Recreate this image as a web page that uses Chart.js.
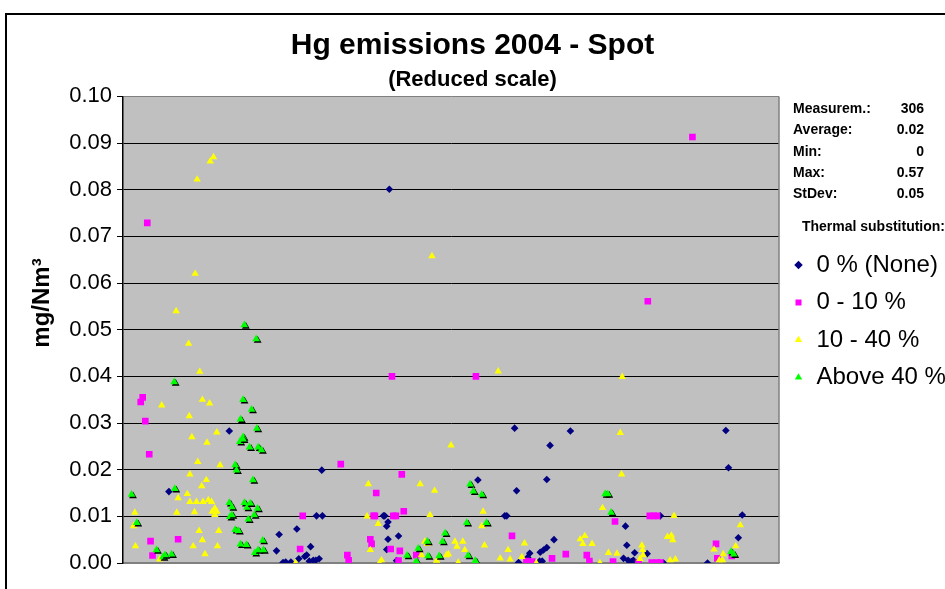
<!DOCTYPE html>
<html>
<head>
<meta charset="utf-8">
<script src="https://cdn.jsdelivr.net/npm/chart.js@4.4.1/dist/chart.umd.min.js"></script>
<style>
  html, body { margin: 0; padding: 0; background: #fff; overflow: hidden; }
  #wrap { position: relative; width: 945px; height: 589px; }
  #moldura { position: absolute; left: 5px; top: 13px; width: 1000px; height: 700px;
    border-top: 2px solid #000; border-left: 2px solid #000; pointer-events: none; }
  #estatisticas { position: absolute; left: 793px; top: 98px; width: 131px;
    font: bold 14px "Liberation Sans", Arial, sans-serif; color: #000; }
  #estatisticas div { display: flex; justify-content: space-between; height: 21.3px; line-height: 21.3px; }
</style>
</head>
<body>
<div id="wrap">
  <canvas id="grafico" width="945" height="589"></canvas>
  <div id="estatisticas"></div>
  <div id="moldura"></div>
</div>
<script>
// textos do grafico
const titulo = 'Hg emissions 2004 - Spot';
const subtitulo = '(Reduced scale)';
const tituloY = 'mg/Nm³';
const tituloLegenda = 'Thermal substitution:';
const nomesSeries = ['0 % (None)', '0 - 10 %', '10 - 40 %', 'Above 40 %'];
const rotulosEstat = ['Measurem.:', 'Average:', 'Min:', 'Max:', 'StDev:'];
const valoresEstat = ['306', '0.02', '0', '0.57', '0.05'];

// eixo Y (mg/Nm3)
const yMin = 0;
const yMax = 0.1;
const yPasso = 0.01;

// 0 % (None)
const xNenhum = [7.0, 16.2, 23.4, 23.8, 24.4, 24.8, 25.6, 26.5, 26.8, 27.7, 28.0, 28.6, 28.4, 29.0, 29.4, 29.9, 29.5, 30.3, 30.4,
  39.7, 39.9, 40.2, 40.4, 40.4, 40.2, 40.6, 41.7, 42.0, 54.1, 58.2, 58.5, 59.7, 60.0, 60.3, 61.7, 62.0, 63.6, 63.5, 63.9, 64.1,
  64.6, 64.6, 65.1, 65.7, 68.2, 76.3, 76.6, 76.8, 77.0, 77.3, 77.5, 77.8, 78.0, 79.9, 81.9, 82.4, 89.1, 91.9, 92.3, 93.8, 94.4];
const yNenhum = [0.0153, 0.0283, 0.0026, 0.0061, 0.0001, 0.0002, 0.0002, 0.0073, 0.0009, 0.0014, 0.0017, 0.0035, 0.0004, 0.0006, 0.0006, 0.0009, 0.0101, 0.0199, 0.0101,
  0.0101, 0.0101, 0.0079, 0.0088, 0.0051, 0.0029, 0.0801, 0.0005, 0.0058, 0.0178, 0.0101, 0.0101, 0.0289, 0.0155, 0.0001, 0.0012, 0.0021, 0.0023, 0.0004, 0.0004, 0.0028,
  0.0033, 0.0179, 0.0252, 0.0050, 0.0283, 0.0010, 0.0079, 0.0038, 0.0006, 0.0001, 0.0003, 0.0006, 0.0022, 0.0020, 0.0101, 0.0000, 0.0000, 0.0284, 0.0204, 0.0054, 0.0103];

// 0 - 10 %
const xBaixo = [2.7, 3.0, 3.4, 3.7, 4.0, 4.2, 4.5, 8.4, 27.0, 27.4, 33.2, 34.2, 34.4, 37.7, 37.9, 38.2, 38.4, 38.6, 40.8, 41.0,
  41.2, 41.6, 42.0, 42.2, 42.5, 42.8, 44.7, 53.8, 59.3, 61.5, 62.4, 65.4, 67.5, 70.7, 71.1, 74.7, 75.0, 78.6, 80.0, 80.3,
  80.9, 81.4, 80.6, 81.4, 81.9, 86.8, 90.4, 90.6, 92.8];
const yBaixo = [0.0345, 0.0355, 0.0304, 0.0729, 0.0233, 0.0047, 0.0016, 0.0051, 0.0030, 0.0101, 0.0212, 0.0017, 0.0006, 0.0051, 0.0041, 0.0101, 0.0101, 0.0150, 0.0030, 0.0400,
  0.0101, 0.0101, 0.0005, 0.0026, 0.0190, 0.0111, 0.0017, 0.0400, 0.0058, 0.0004, 0.0003, 0.0010, 0.0019, 0.0017, 0.0004, 0.0003, 0.0089, 0.0001, 0.0561, 0.0101,
  0.0101, 0.0101, 0.0001, 0.0001, 0.0001, 0.0913, 0.0041, 0.0010, 0.0015];

// 10 - 40 %
const xMedio = [1.6, 1.8, 1.9, 5.1, 5.6, 5.9, 8.1, 8.2, 8.4, 9.8, 10.0, 10.1, 10.2, 10.2, 10.5, 10.7, 10.9, 11.0, 11.2, 11.3,
  11.4, 11.6, 11.7, 12.0, 12.1, 12.1, 12.2, 12.5, 12.7, 12.8, 13.0, 13.2, 13.3, 13.5, 13.6, 13.8, 14.0, 14.0, 14.3, 14.3,
  14.4, 14.6, 14.8, 26.3, 37.2, 37.4, 37.7, 38.9, 39.1, 39.4, 45.3, 45.5, 46.0, 46.4, 46.8, 47.1, 47.5, 47.8, 49.3, 49.6,
  50.0, 50.6, 50.9, 51.1, 51.8, 52.1, 54.7, 54.9, 55.1, 57.2, 57.5, 58.7, 59.0, 60.8, 61.2, 63.0, 69.7, 70.1, 70.4, 71.5,
  72.7, 73.1, 74.0, 75.3, 75.8, 76.0, 76.1, 78.8, 79.1, 79.2, 79.3, 83.0, 83.6, 83.8, 83.4, 84.2, 84.0, 90.1, 90.9, 91.4,
  91.5, 93.4, 94.1];
const yMedio = [0.0079, 0.0108, 0.0036, 0.0028, 0.0008, 0.0338, 0.0540, 0.0108, 0.0139, 0.0148, 0.0470, 0.0315, 0.0190, 0.0131, 0.0270, 0.0036, 0.0109, 0.0620, 0.0131, 0.0822,
  0.0217, 0.0069, 0.0410, 0.0165, 0.0350, 0.0049, 0.0131, 0.0019, 0.0178, 0.0258, 0.0135, 0.0342, 0.0861, 0.0131, 0.0110, 0.0870, 0.0117, 0.0103, 0.0280, 0.0110,
  0.0036, 0.0069, 0.0210, 0.0000, 0.0100, 0.0169, 0.0028, 0.0084, 0.0000, 0.0006, 0.0169, 0.0017, 0.0046, 0.0041, 0.0103, 0.0658, 0.0155, 0.0005, 0.0017, 0.0019,
  0.0252, 0.0046, 0.0035, 0.0001, 0.0046, 0.0028, 0.0079, 0.0110, 0.0038, 0.0411, 0.0010, 0.0028, 0.0008, 0.0013, 0.0042, 0.0000, 0.0051, 0.0041, 0.0058, 0.0041,
  0.0000, 0.0118, 0.0022, 0.0020, 0.0279, 0.0190, 0.0399, 0.0009, 0.0038, 0.0028, 0.0017, 0.0056, 0.0059, 0.0049, 0.0006, 0.0008, 0.0101, 0.0029, 0.0006, 0.0006,
  0.0019, 0.0036, 0.0081];

// Above 40 %
const xAlto = [1.3, 2.1, 5.1, 6.1, 6.4, 7.4, 7.8, 7.9, 16.2, 16.3, 16.6, 16.6, 17.1, 17.3, 17.1, 17.6, 17.8, 18.3, 18.3, 17.9,
  17.9, 18.3, 18.5, 18.5, 18.8, 18.9, 19.1, 19.3, 19.4, 19.6, 19.8, 20.0, 20.1, 20.3, 20.4, 20.5, 20.6, 20.6, 21.1, 21.3,
  21.4, 43.3, 44.7, 45.0, 46.4, 46.5, 48.2, 48.7, 49.1, 52.4, 52.6, 52.9, 53.4, 53.7, 54.7, 55.4, 73.5, 73.9, 74.4, 92.7,
  93.1];
const yAlto = [0.0147, 0.0086, 0.0028, 0.0013, 0.0017, 0.0019, 0.0388, 0.0159, 0.0129, 0.0099, 0.0120, 0.0103, 0.0210, 0.0199, 0.0071, 0.0069, 0.0260, 0.0270, 0.0265, 0.0308,
  0.0040, 0.0350, 0.0129, 0.0510, 0.0039, 0.0119, 0.0094, 0.0248, 0.0128, 0.0329, 0.0178, 0.0103, 0.0022, 0.0480, 0.0288, 0.0117, 0.0248, 0.0028, 0.0242, 0.0048,
  0.0028, 0.0016, 0.0004, 0.0031, 0.0046, 0.0015, 0.0015, 0.0046, 0.0064, 0.0086, 0.0016, 0.0169, 0.0154, 0.0005, 0.0147, 0.0086, 0.0148, 0.0148, 0.0108, 0.0024,
  0.0019];

function juntaPontos(xs, ys) { // monta os pares {x, y} para o scatter
  return xs.map((x, i) => ({ x: x, y: ys[i] }));
}

// bloco de estatisticas ao lado do grafico
const caixaEstat = document.getElementById('estatisticas');
rotulosEstat.forEach((rotulo, i) => {
  const linha = document.createElement('div');
  linha.innerHTML = '<span>' + rotulo + '</span><span>' + valoresEstat[i] + '</span>';
  caixaEstat.appendChild(linha);
});

const fonte = '"Liberation Sans", Arial, sans-serif';
Chart.defaults.font.family = fonte;
Chart.defaults.color = '#000';

// fundo cinza da area de plotagem e borda da direita
const fundoPlot = {
  id: 'fundoPlot',
  beforeDraw(chart) {
    const { ctx, chartArea: a } = chart;
    ctx.save();
    ctx.fillStyle = '#C0C0C0';
    ctx.fillRect(a.left, a.top, a.right - a.left, a.bottom - a.top);
    ctx.restore();
  },
  beforeDatasetsDraw(chart) {
    const { ctx, chartArea: a } = chart;
    ctx.save();
    ctx.strokeStyle = '#808080';
    ctx.lineWidth = 1.5;
    ctx.beginPath();
    ctx.moveTo(a.right, a.top);
    ctx.lineTo(a.right, a.bottom);
    ctx.stroke();
    ctx.restore();
  }
};

// sombra preta nos triangulos verdes
const sombraVerde = {
  id: 'sombraVerde',
  beforeDatasetDraw(chart, args) {
    if (args.index !== 3) return;
    const ctx = chart.ctx;
    ctx.save();
    ctx.shadowColor = '#000';
    ctx.shadowOffsetX = 1.5;
    ctx.shadowOffsetY = 1.5;
    ctx.shadowBlur = 0;
  },
  afterDatasetDraw(chart, args) {
    if (args.index === 3) chart.ctx.restore();
  }
};

const grafico = new Chart(document.getElementById('grafico'), {
  type: 'scatter',
  data: {
    datasets: [
      { label: nomesSeries[0], data: juntaPontos(xNenhum, yNenhum), pointStyle: 'rectRot', pointRadius: 3.8,
        backgroundColor: '#000080', borderColor: '#000080', pointBorderWidth: 0, borderWidth: 0, order: 4 },
      { label: nomesSeries[1], data: juntaPontos(xBaixo, yBaixo), pointStyle: 'rect', pointRadius: 4.7,
        backgroundColor: '#FF00FF', borderColor: '#FF00FF', pointBorderWidth: 0, borderWidth: 0, order: 3 },
      { label: nomesSeries[2], data: juntaPontos(xMedio, yMedio), pointStyle: 'triangle', pointRadius: 4.3,
        backgroundColor: '#FFFF00', borderColor: '#FFFF00', pointBorderWidth: 0, borderWidth: 0, order: 2 },
      { label: nomesSeries[3], data: juntaPontos(xAlto, yAlto), pointStyle: 'triangle', pointRadius: 4.5,
        backgroundColor: '#00FF00', borderColor: '#00FF00', pointBorderWidth: 0, borderWidth: 0, order: 1 }
    ]
  },
  options: {
    responsive: false,
    animation: false,
    devicePixelRatio: 1,
    events: [],
    layout: { padding: { left: 0, top: 12, right: 0, bottom: 26 } },
    plugins: {
      tooltip: { enabled: false },
      title: { display: true, text: titulo, font: { size: 30, weight: 'bold' }, color: '#000',
        padding: { top: 16, bottom: 0 } },
      subtitle: { display: true, text: subtitulo, font: { size: 22, weight: 'bold' }, color: '#000',
        padding: { top: 3, bottom: 3 } },
      legend: {
        position: 'right',
        align: 'start',
        maxWidth: 166,
        title: { display: true, text: tituloLegenda, position: 'end', color: '#000',
          font: { size: 14, weight: 'bold' }, padding: { top: 207.7, bottom: 3 } },
        labels: { usePointStyle: true, boxWidth: 12, boxHeight: 6, padding: 13.5, color: '#000',
          font: { size: 24 }, sort: (a, b) => a.datasetIndex - b.datasetIndex }
      }
    },
    scales: {
      x: {
        type: 'linear', min: 0, max: 100,
        ticks: { display: false },
        grid: { display: false, drawTicks: false },
        border: { display: true, color: '#808080', width: 1.5 }
      },
      y: {
        min: yMin, max: yMax,
        ticks: { stepSize: yPasso, padding: 5, color: '#000', font: { size: 22 },
          callback: (v) => Number(v).toFixed(2) },
        grid: {
          color: (c) => (c.tick && (c.tick.value < 0.0005 || c.tick.value > 0.0995)) ? '#808080' : '#000',
          tickColor: '#000', lineWidth: 1, tickLength: 6
        },
        border: { color: '#000', width: 1.5 },
        title: { display: true, text: '        ' + tituloY, color: '#000',
          font: { size: 24, weight: 'bold' }, padding: { top: 27.6, bottom: 0 } },
        afterFit(scale) { scale.width = 123; }
      }
    }
  },
  plugins: [fundoPlot, sombraVerde]
});
</script>
</body>
</html>
